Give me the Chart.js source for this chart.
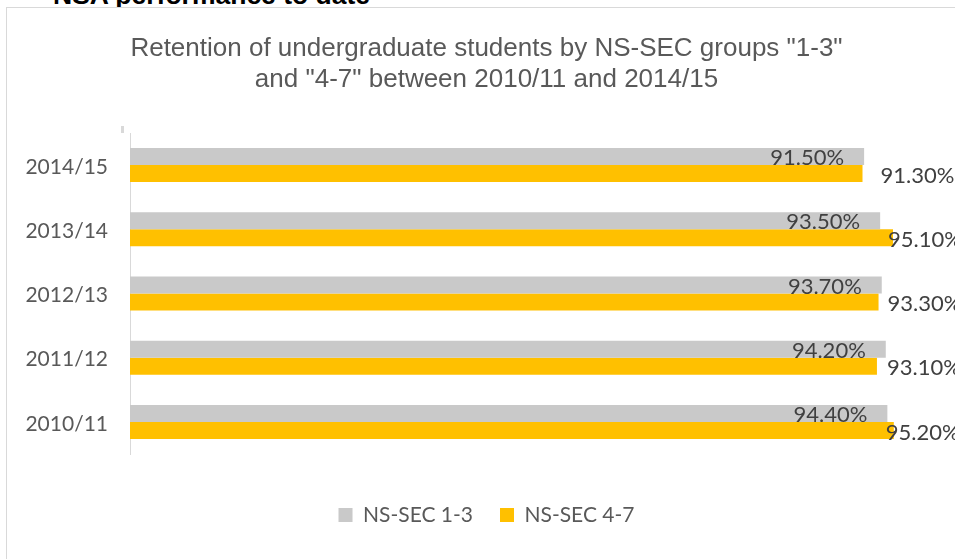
<!DOCTYPE html>
<html>
<head>
<meta charset="utf-8">
<script src="https://cdn.jsdelivr.net/npm/chart.js@4/dist/chart.umd.min.js"></script>
<style>
	html, body { margin: 0; padding: 0; background: #fff; overflow: hidden; }
	body { width: 955px; height: 559px; position: relative; }
	.heading {
		position: absolute; left: 53px; top: -18px;
		font: bold 26.5px 'Liberation Sans', Arial, sans-serif;
		line-height: 26.5px; color: #000; white-space: nowrap;
	}
	.frame {
		position: absolute; left: 6px; top: 7px;
		width: 959px; height: 600px;
		border: 1px solid #d9d9d9; background: #fff;
	}
	.frame canvas { position: absolute; left: 0; top: 0; }
</style>
</head>
<body>
<div class="heading">NSA performance to date</div>
<div class="frame">
	<canvas id="retention" width="959" height="551"></canvas>
</div>
<script>
const years = ['2010/11', '2011/12', '2012/13', '2013/14', '2014/15']
const nssec13 = [94.4, 94.2, 93.7, 93.5, 91.5]
const nssec47 = [95.2, 93.1, 93.3, 95.1, 91.3]

// the 4-7 labels sit a little off the bar end, differently per year
const labelShift47 = [-8, 10, 9, -5, 18]

const GREY = '#c9c9c9'
const GOLD = '#ffc000'
const TEXT = '#595959'

const pct = v => v.toFixed(2) + '%'

// value labels + the small stray tick above the axis
const valueLabels = {
	id: 'valueLabels',
	afterDatasetsDraw(chart) {
		const { ctx, chartArea } = chart
		ctx.save()
		ctx.fillStyle = '#d9d9d9'
		ctx.fillRect(chartArea.left - 9, chartArea.top - 7, 3, 7)

		ctx.font = '22px Lato'
		ctx.fillStyle = '#404040'
		ctx.textBaseline = 'middle'
		ctx.textAlign = 'right'
		chart.getDatasetMeta(0).data.forEach((bar, i) => {
			ctx.fillText(pct(nssec13[i]), bar.x - 20, bar.y + 1.5)
		})
		ctx.textAlign = 'left'
		chart.getDatasetMeta(1).data.forEach((bar, i) => {
			ctx.fillText(pct(nssec47[i]), bar.x + labelShift47[i], bar.y + 2)
		})
		ctx.restore()
	},
}

new Chart(document.getElementById('retention'), {
	type: 'bar',
	data: {
		labels: years,
		datasets: [
			{ label: 'NS-SEC 1-3', data: nssec13, backgroundColor: GREY },
			{ label: 'NS-SEC 4-7', data: nssec47, backgroundColor: GOLD },
		],
	},
	options: {
		indexAxis: 'y',
		responsive: false,
		animation: false,
		events: [],
		layout: { padding: { left: 0, right: 0, top: 0, bottom: 23.5 } },
		datasets: { bar: { categoryPercentage: 0.53, barPercentage: 1 } },
		scales: {
			x: {
				min: 0,
				max: 104.2,
				grid: { display: false },
				border: { display: false },
				ticks: { display: false },
				afterFit: s => { s.height = 23.5 },
			},
			y: {
				reverse: true,
				grid: { display: false, drawTicks: false },
				border: { display: true, color: '#d9d9d9', width: 1 },
				ticks: { color: TEXT, font: { family: 'Lato', size: 21 }, padding: 22, labelOffset: 2 },
				afterFit: s => { s.width = 123 },
			},
		},
		plugins: {
			title: {
				display: true,
				text: ['Retention of undergraduate students by NS-SEC groups "1-3"', 'and "4-7" between 2010/11 and 2014/15'],
				color: TEXT,
				font: { family: 'Liberation Sans', size: 26, weight: 'normal', lineHeight: 31 / 26 },
				padding: { top: 25.5, bottom: 37.5 },
			},
			legend: {
				position: 'bottom',
				labels: {
					color: TEXT,
					font: { family: 'Lato', size: 21 },
					boxWidth: 14,
					boxHeight: 14,
					padding: 27,
				},
			},
			tooltip: { enabled: false },
		},
	},
	plugins: [valueLabels],
})
</script>
</body>
</html>
